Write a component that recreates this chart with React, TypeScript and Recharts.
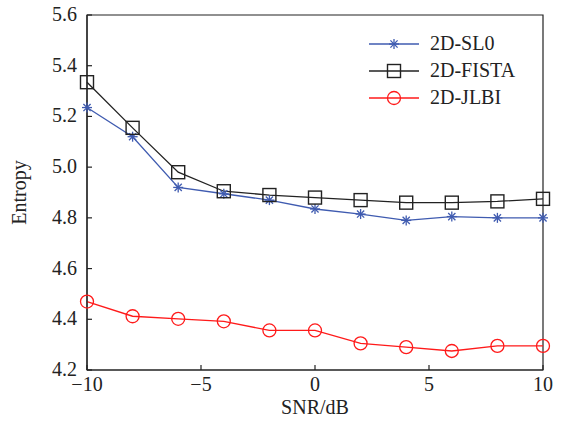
import React from 'react';
import { LineChart, Line, XAxis, YAxis, ReferenceArea } from 'recharts';

const snr = [-10, -8, -6, -4, -2, 0, 2, 4, 6, 8, 10];
const sl0 = [5.235, 5.12, 4.92, 4.895, 4.87, 4.835, 4.815, 4.79, 4.805, 4.8, 4.8];
const fista = [5.335, 5.155, 4.98, 4.905, 4.89, 4.88, 4.87, 4.86, 4.86, 4.865, 4.875];
const jlbi = [4.47, 4.412, 4.402, 4.392, 4.356, 4.356, 4.305, 4.29, 4.275, 4.295, 4.295];
const xTicks = [-10, -5, 0, 5, 10];
const yTicks = [4.2, 4.4, 4.6, 4.8, 5.0, 5.2, 5.4, 5.6];

const FONT = '"Liberation Serif", serif';
const FS = 20;
const BLUE = '#3f5bb0';
const BLACK = '#222222';
const RED = '#ff1a1a';

const data = snr.map((x, i) => ({ x, sl0: sl0[i], fista: fista[i], jlbi: jlbi[i] }));

const fmtX = (v: number) => (v < 0 ? `\u2212${Math.abs(v)}` : `${v}`);

const Star = ({ cx, cy, color }: any) => {
  const r = 5;
  const d = r * 0.72;
  return (
    <g stroke={color} strokeWidth={1.3}>
      <line x1={cx - r} y1={cy} x2={cx + r} y2={cy} />
      <line x1={cx} y1={cy - r} x2={cx} y2={cy + r} />
      <line x1={cx - d} y1={cy - d} x2={cx + d} y2={cy + d} />
      <line x1={cx - d} y1={cy + d} x2={cx + d} y2={cy - d} />
    </g>
  );
};

const Square = ({ cx, cy, color }: any) => (
  <rect x={cx - 6.5} y={cy - 6.5} width={13} height={13} fill="none" stroke={color} strokeWidth={1.4} />
);

const Circle = ({ cx, cy, color }: any) => (
  <circle cx={cx} cy={cy} r={6.5} fill="none" stroke={color} strokeWidth={1.3} />
);

const XTick = ({ x, y, payload }: any) => (
  <g>
    <line x1={x} y1={y} x2={x} y2={y - 5} stroke={BLACK} strokeWidth={1.2} />
    <text x={x} y={y + 21} textAnchor="middle" fontFamily={FONT} fontSize={FS} fill="#222">
      {fmtX(payload.value)}
    </text>
  </g>
);

const YTick = ({ x, y, payload }: any) => (
  <g>
    <line x1={x} y1={y} x2={x + 5} y2={y} stroke={BLACK} strokeWidth={1.2} />
    <text x={x - 10} y={y + 6} textAnchor="end" fontFamily={FONT} fontSize={FS} fill="#222">
      {payload.value.toFixed(1)}
    </text>
  </g>
);

const legendItems = [
  { label: '2D-SL0', color: BLUE, Mark: Star },
  { label: '2D-FISTA', color: BLACK, Mark: Square },
  { label: '2D-JLBI', color: RED, Mark: Circle },
];

const LegendBox = () => (
  <svg width={180} height={90} style={{ position: 'absolute', left: 367, top: 30 }}>
    {legendItems.map((it, i) => {
      const y = 14 + i * 27;
      return (
        <g key={it.label}>
          <line x1={2} y1={y} x2={52} y2={y} stroke={it.color} strokeWidth={1.3} />
          <it.Mark cx={27} cy={y} color={it.color} />
          <text x={63} y={y + 6} fontFamily={FONT} fontSize={FS} fill="#222">
            {it.label}
          </text>
        </g>
      );
    })}
  </svg>
);

export default function App() {
  return (
    <div style={{ position: 'absolute', left: 0, top: 0, width: 564, height: 426, background: '#fff' }}>
      <LineChart width={564} height={426} data={data} margin={{ top: 15, right: 21, bottom: 16, left: 27 }}>
        <XAxis
          dataKey="x"
          type="number"
          domain={[-10, 10]}
          ticks={xTicks}
          tickSize={0}
          tickMargin={0}
          tick={<XTick />}
          stroke={BLACK}
          strokeWidth={1.2}
          height={40}
          label={{ value: 'SNR/dB', position: 'insideBottom', offset: -4, fontFamily: FONT, fontSize: FS, fill: '#222' }}
        />
        <YAxis
          type="number"
          domain={[4.2, 5.6]}
          ticks={yTicks}
          tickSize={0}
          tickMargin={0}
          tick={<YTick />}
          stroke={BLACK}
          strokeWidth={1.2}
          width={60}
          label={{ value: 'Entropy', angle: -90, position: 'insideLeft', offset: 0, dx: -8, fontFamily: FONT, fontSize: FS, fill: '#222', style: { textAnchor: 'middle' } }}
        />
        <ReferenceArea x1={-10} x2={10} y1={4.2} y2={5.6} fill="none" stroke={BLACK} strokeWidth={1.2} ifOverflow="visible" />
        <Line dataKey="sl0" stroke={BLUE} strokeWidth={1.3} isAnimationActive={false} dot={(p: any) => <Star key={p.index} cx={p.cx} cy={p.cy} color={BLUE} />} />
        <Line dataKey="fista" stroke={BLACK} strokeWidth={1.3} isAnimationActive={false} dot={(p: any) => <Square key={p.index} cx={p.cx} cy={p.cy} color={BLACK} />} />
        <Line dataKey="jlbi" stroke={RED} strokeWidth={1.3} isAnimationActive={false} dot={(p: any) => <Circle key={p.index} cx={p.cx} cy={p.cy} color={RED} />} />
      </LineChart>
      <LegendBox />
    </div>
  );
}
